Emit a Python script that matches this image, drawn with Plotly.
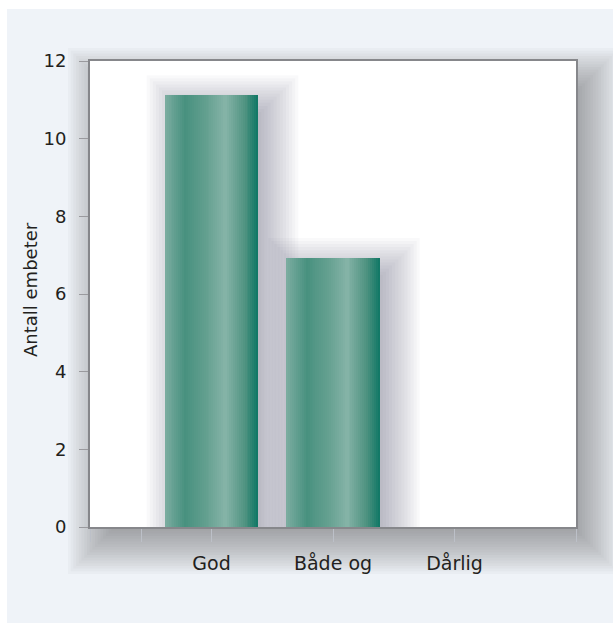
import plotly.graph_objects as go

# Data
categories = ["God", "Både og", "Dårlig"]
antall = [11.12, 6.93, 0.0]
y_tick_values = [0, 2, 4, 6, 8, 10, 12]
y_title = "Antall embeter"

# Figure geometry (pixels)
W, H = 613, 623
L, R, T, B = 90, 37, 61, 96
PW, PH = W - L - R, H - T - B
X_RANGE = [-1.0, 3.0]
Y_RANGE = [0.0, 12.0]
UX = PW / (X_RANGE[1] - X_RANGE[0])   # px per x unit
UY = PH / (Y_RANGE[1] - Y_RANGE[0])   # px per y unit


def fx(px):
    return (px - L) / PW


def fy(py):
    return (H - B - py) / PH


BG = "#eff3f8"
FONT = "DejaVu Sans, Open Sans, sans-serif"
TEXT = "#231f20"

# Horizontal shading across each bar (cylinder-like sheen)
STOPS = [
    (0.00, (124, 173, 161)),
    (0.22, (72, 145, 127)),
    (0.45, (100, 160, 144)),
    (0.65, (134, 180, 168)),
    (0.86, (78, 146, 128)),
    (1.00, (14, 119, 101)),
]


def shade(t):
    for (t0, c0), (t1, c1) in zip(STOPS, STOPS[1:]):
        if t <= t1:
            f = (t - t0) / (t1 - t0)
            rgb = [round(a + (b - a) * f) for a, b in zip(c0, c1)]
            return "rgb({},{},{})".format(*rgb)
    return "rgb({},{},{})".format(*STOPS[-1][1])


positions = list(range(len(categories)))
bar_w = 0.77
n_strips = 48
strip_w = bar_w / n_strips

xs, ys, cols = [], [], []
for p, v in zip(positions, antall):
    for i in range(n_strips):
        t = (i + 0.5) / n_strips
        xs.append(p - bar_w / 2 + t * bar_w)
        ys.append(v)
        cols.append(shade(t))

fig = go.Figure()
fig.add_trace(go.Bar(
    x=xs, y=ys, width=strip_w * 1.06,
    marker=dict(color=cols, line=dict(width=0)),
    hoverinfo="skip", showlegend=False,
))

shapes = []
# light page panel with a thin white frame at top/left
shapes.append(dict(type="rect", xref="paper", yref="paper", layer="below",
                   x0=fx(7), x1=fx(W + 20), y0=fy(H + 20), y1=fy(9),
                   fillcolor=BG, line=dict(width=0)))

# soft drop shadow behind the plotting panel
K = 18
for k in range(K):
    e = -10 + k * (46 / (K - 1))
    shapes.append(dict(type="rect", xref="paper", yref="paper", layer="below",
                       x0=fx(104 - e), x1=fx(584 + e), y0=fy(538 + e), y1=fy(84 - e),
                       fillcolor="#4a5060", opacity=0.036, line=dict(width=0)))

# white plotting panel
shapes.append(dict(type="rect", xref="paper", yref="paper", layer="below",
                   x0=0, x1=1, y0=0, y1=1, fillcolor="white", line=dict(width=0)))

# soft shadows cast by the bars, falling mostly to the right
KB = 14
for p, v in zip(positions, antall):
    if v <= 0:
        continue
    for k in range(KB):
        e = -4 + k * (40 / (KB - 1))
        shapes.append(dict(type="rect", xref="x", yref="y", layer="below",
                           x0=p - bar_w / 2 + (18 - e) / UX,
                           x1=p + bar_w / 2 + (4 + e) / UX,
                           y0=0, y1=v + (e - 16) / UY,
                           fillcolor="#5a5e68", opacity=0.036, line=dict(width=0)))

fig.update_layout(
    width=W, height=H,
    margin=dict(l=L, r=R, t=T, b=B, autoexpand=False),
    paper_bgcolor="white", plot_bgcolor="white",
    barmode="overlay", bargap=0,
    font=dict(family=FONT, size=18, color=TEXT),
    shapes=shapes,
    annotations=[dict(
        text=y_title, xref="paper", yref="paper",
        x=fx(30), y=fy(290), xanchor="center", yanchor="middle",
        textangle=-90, showarrow=False,
        font=dict(family=FONT, size=18, color=TEXT),
    )],
)

fig.update_xaxes(
    range=X_RANGE, showgrid=False, zeroline=False,
    tickmode="array",
    tickvals=[-1.0, -0.58] + positions + [3.0],
    ticktext=["", ""] + categories + [""],
    ticks="outside", ticklen=13, tickwidth=1, tickcolor="#bcc0c8",
    showline=True, linecolor="#86878b", linewidth=2, mirror=True,
    ticklabelstandoff=5,
    tickfont=dict(family=FONT, size=19, color=TEXT),
)
fig.update_yaxes(
    range=Y_RANGE, showgrid=False, zeroline=False,
    tickmode="array", tickvals=y_tick_values,
    ticks="outside", ticklen=9, tickwidth=1, tickcolor="#9a9a9e",
    showline=True, linecolor="#86878b", linewidth=2, mirror=True,
    ticklabelstandoff=9,
    tickfont=dict(family=FONT, size=18, color=TEXT),
)

fig.write_html("out.html")
